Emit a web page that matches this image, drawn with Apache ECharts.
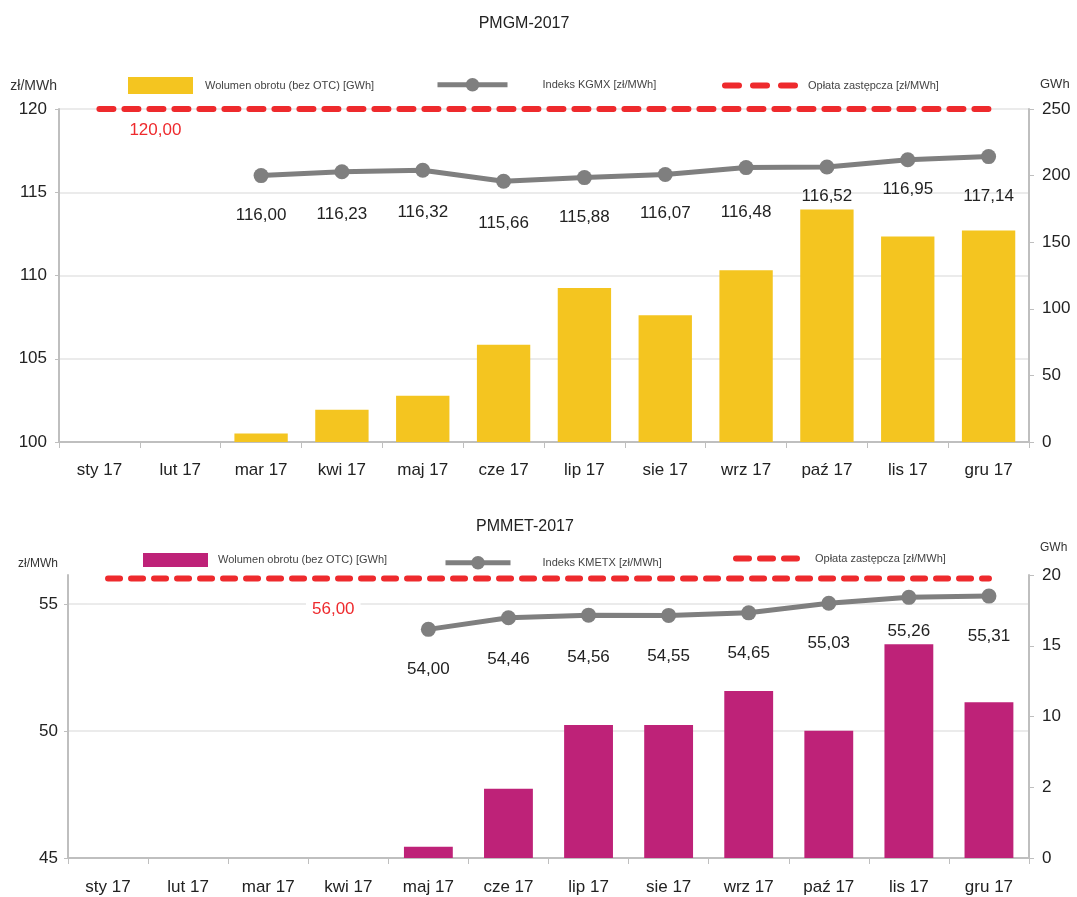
<!DOCTYPE html>
<html>
<head>
<meta charset="utf-8">
<script src="https://cdn.jsdelivr.net/npm/echarts@6/dist/echarts.min.js"></script>
<style>
html,body{margin:0;padding:0;background:#fff;}
#chart{width:1077px;height:897px;}
</style>
</head>
<body>
<div id="chart"></div>
<script>
const months = ['sty 17','lut 17','mar 17','kwi 17','maj 17','cze 17','lip 17','sie 17','wrz 17','paź 17','lis 17','gru 17'];

// PMGM-2017
const gmVolume = [null, null, 6.3, 24.3, 34.8, 73.1, 115.6, 95.1, 128.9, 174.5, 154.2, 158.7];
const kgmx = [null, null, 116.00, 116.23, 116.32, 115.66, 115.88, 116.07, 116.48, 116.52, 116.95, 117.14];
const gmFee = [120, 120, 120, 120, 120, 120, 120, 120, 120, 120, 120, 120];
const gmLeftTicks = ['100', '105', '110', '115', '120'];
const gmRightTicks = ['0', '50', '100', '150', '200', '250'];

// PMMET-2017
const metVolume = [null, null, null, null, 0.8, 4.9, 9.4, 9.4, 11.8, 9.0, 15.1, 11.0];
const kmetx = [null, null, null, null, 54.00, 54.46, 54.56, 54.55, 54.65, 55.03, 55.26, 55.31];
const metFee = [56, 56, 56, 56, 56, 56, 56, 56, 56, 56, 56, 56];
const metLeftTicks = ['45', '50', '55'];
const metRightTicks = ['0', '2', '10', '15', '20'];

// label gaps (style only)
const kgmxLabelGap = [0, 0, 24, 27, 26, 26, 24, 23, 29, 13, 14, 24];
const kmetxLabelGap = [0, 0, 0, 0, 24, 26, 26, 25, 24, 24, 18, 24];

const FONT = 'Liberation Sans, Arial, sans-serif';
const YELLOW = '#F4C520';
const MAGENTA = '#BE2278';
const GRAY = '#7F7F7F';
const RED = '#EE2A2D';
const AXIS = '#BFBFBF';
const TXT = '#222';
const CLEAR = 'rgba(0,0,0,0)';

const fmt = v => Number(v).toFixed(2).replace('.', ',');

function lineData(vals, gaps) {
  return vals.map((v, i) => v == null ? null : { value: v, label: { distance: gaps[i] } });
}

const chart = echarts.init(document.getElementById('chart'), null, { renderer: 'canvas' });

function yLeft(gridIndex, min, max, ticks, cfg) {
  return {
    type: 'value', gridIndex, min, max, interval: 5, position: 'left',
    name: 'zł/MWh', nameLocation: 'end', nameGap: cfg.gap,
    nameTextStyle: { fontFamily: FONT, fontSize: cfg.size, color: '#333', align: 'right', padding: [0, cfg.pad, 0, 0] },
    axisLine: { show: true, lineStyle: { color: AXIS, width: 2 } },
    axisTick: { show: true, length: 4, lineStyle: { color: AXIS } },
    axisLabel: { fontFamily: FONT, fontSize: 17, color: TXT, margin: cfg.margin, showMaxLabel: cfg.showMax,
      formatter: v => { const i = Math.round((v - min) / 5); return ticks[i] !== undefined && Math.abs(v - (min + i * 5)) < 1e-6 ? ticks[i] : ''; } },
    splitLine: { show: true, showMaxLine: cfg.showMax, lineStyle: { color: '#E4E4E4', width: 1.5 } }
  };
}
function yRight(gridIndex, max, interval, ticks, cfg) {
  return {
    type: 'value', gridIndex, min: 0, max, interval, position: 'right',
    name: 'GWh', nameLocation: 'end', nameGap: cfg.gap,
    nameTextStyle: { fontFamily: FONT, fontSize: cfg.size, color: '#333', align: 'left', padding: [0, 0, 0, cfg.pad] },
    axisLine: { show: true, lineStyle: { color: AXIS, width: 2 } },
    axisTick: { show: true, length: 5, lineStyle: { color: AXIS } },
    axisLabel: { fontFamily: FONT, fontSize: 17, color: TXT, margin: 13, formatter: v => ticks[Math.round(v / interval)] },
    splitLine: { show: false }
  };
}
function xAxis(gridIndex, margin) {
  return {
    type: 'category', gridIndex, data: months, boundaryGap: true,
    axisLine: { show: true, lineStyle: { color: AXIS, width: 2 } },
    axisTick: { show: true, length: 6, lineStyle: { color: AXIS } },
    axisLabel: { fontFamily: FONT, fontSize: 17, color: TXT, margin }
  };
}

function legend(name, left, top, w, h, padLeft, extra) {
  return Object.assign({
    data: [{ name }], left, top, padding: 0, itemWidth: w, itemHeight: h, selectedMode: false,
    textStyle: { fontFamily: FONT, fontSize: 11, color: '#444', padding: [0, 0, 0, padLeft] }
  }, extra || {});
}

const option = {
  backgroundColor: '#fff',
  animation: false,
  title: [
    { text: 'PMGM-2017', left: 519, top: 11, textAlign: 'center', textStyle: { fontFamily: FONT, fontSize: 16, fontWeight: 'normal', color: TXT } },
    { text: 'PMMET-2017', left: 520, top: 514, textAlign: 'center', textStyle: { fontFamily: FONT, fontSize: 16, fontWeight: 'normal', color: TXT } }
  ],
  legend: [
    legend('Wolumen obrotu (bez OTC) [GWh]', 128, 77, 65, 17, 7, { icon: 'rect' }),
    legend('Indeks KGMX [zł/MWh]', 435, 78, 70, 17, 30,
      { lineStyle: { width: 5, color: GRAY }, itemStyle: { color: GRAY } }),
    legend('Opłata zastępcza [zł/MWh]', 722, 80, 76, 12, 2,
      { lineStyle: { width: 6, color: RED, type: [14, 14], cap: 'round' }, itemStyle: { color: CLEAR, borderColor: CLEAR, borderWidth: 0 } }),
    legend('Wolumen obrotu (bez OTC) [GWh] ', 143, 553, 65, 14, 5, { icon: 'rect' }),
    legend('Indeks KMETX [zł/MWh]', 443, 556, 65, 17, 27,
      { lineStyle: { width: 5, color: GRAY }, itemStyle: { color: GRAY } }),
    legend('Opłata zastępcza [zł/MWh] ', 733, 553, 67, 12, 7,
      { lineStyle: { width: 6, color: RED, type: [13, 11], cap: 'round' }, itemStyle: { color: CLEAR, borderColor: CLEAR, borderWidth: 0 } })
  ],
  grid: [
    { left: 59, right: 48, top: 109, height: 333 },
    { left: 68, right: 48, top: 575, height: 283 }
  ],
  xAxis: [xAxis(0, 20), xAxis(1, 21)],
  yAxis: [
    yLeft(0, 100, 120, gmLeftTicks, { gap: 16, size: 14, pad: 2, margin: 12, showMax: true }),
    yRight(0, 250, 50, gmRightTicks, { gap: 18, size: 13, pad: 11 }),
    yLeft(1, 45, 56.14, metLeftTicks, { gap: 5, size: 12, pad: 10, margin: 10, showMax: false }),
    yRight(1, 20, 5, metRightTicks, { gap: 21, size: 12, pad: 11 })
  ],
  series: [
    {
      name: 'Wolumen obrotu (bez OTC) [GWh]', type: 'bar', xAxisIndex: 0, yAxisIndex: 1,
      data: gmVolume, barWidth: '66%', itemStyle: { color: YELLOW }, z: 2
    },
    {
      name: 'Indeks KGMX [zł/MWh]', type: 'line', xAxisIndex: 0, yAxisIndex: 0,
      data: lineData(kgmx, kgmxLabelGap), symbol: 'circle', symbolSize: 15,
      itemStyle: { color: GRAY }, lineStyle: { color: GRAY, width: 5 },
      label: { show: true, position: 'bottom', fontFamily: FONT, fontSize: 17, color: TXT, formatter: p => fmt(p.value) },
      z: 4
    },
    {
      name: 'Opłata zastępcza [zł/MWh]', type: 'line', xAxisIndex: 0, yAxisIndex: 0,
      data: gmFee, symbol: 'circle', symbolSize: 1, showSymbol: true,
      itemStyle: { color: CLEAR },
      lineStyle: { color: RED, width: 6, type: [14, 11], cap: 'round' },
      label: { show: true, position: 'bottom', distance: 12, offset: [56, 0], fontFamily: FONT, fontSize: 17, color: RED,
        formatter: p => p.dataIndex === 0 ? fmt(p.value) : '' },
      z: 3
    },
    {
      name: 'Wolumen obrotu (bez OTC) [GWh] ', type: 'bar', xAxisIndex: 1, yAxisIndex: 3,
      data: metVolume, barWidth: '61%', itemStyle: { color: MAGENTA }, z: 2
    },
    {
      name: 'Indeks KMETX [zł/MWh]', type: 'line', xAxisIndex: 1, yAxisIndex: 2,
      data: lineData(kmetx, kmetxLabelGap), symbol: 'circle', symbolSize: 15,
      itemStyle: { color: GRAY }, lineStyle: { color: GRAY, width: 5 },
      label: { show: true, position: 'bottom', fontFamily: FONT, fontSize: 17, color: TXT, formatter: p => fmt(p.value) },
      z: 4
    },
    {
      name: 'Opłata zastępcza [zł/MWh] ', type: 'line', xAxisIndex: 1, yAxisIndex: 2,
      data: metFee, symbol: 'circle', symbolSize: 1, showSymbol: true,
      itemStyle: { color: CLEAR },
      lineStyle: { color: RED, width: 6, type: [12, 11], cap: 'round' },
      label: { show: true, position: 'bottom', distance: 20, offset: [-15, 0], fontFamily: FONT, fontSize: 17, color: RED,
        backgroundColor: '#fff', padding: [2, 6],
        formatter: p => p.dataIndex === 3 ? fmt(p.value) : '' },
      z: 3
    }
  ]
};
chart.setOption(option);
</script>
</body>
</html>
